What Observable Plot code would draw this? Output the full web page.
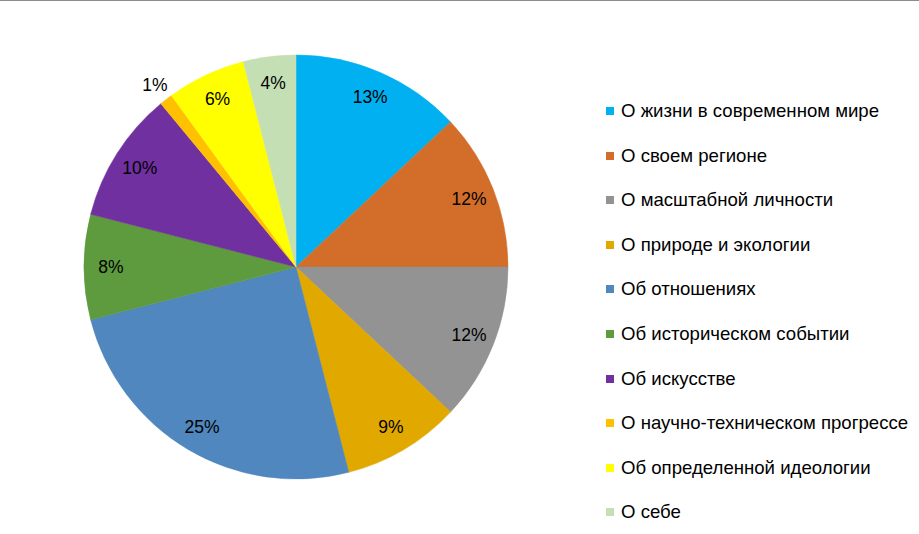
<!DOCTYPE html>
<html><head><meta charset="utf-8">
<script src="https://cdn.jsdelivr.net/npm/d3@7"></script>
<script src="https://cdn.jsdelivr.net/npm/@observablehq/plot@0.6"></script>
<style>
html,body{margin:0;padding:0;background:#fff;}
#wrap{position:relative;width:919px;height:534px;overflow:hidden;border-top:1px solid #8c8c8c;box-sizing:border-box;font-family:"Liberation Sans",Arial,sans-serif;}
#legend{position:absolute;left:606px;top:0;}
.item{position:absolute;left:0;white-space:nowrap;font-size:18.6px;color:#000;line-height:20px;}
.sw{display:inline-block;width:8px;height:8px;margin-right:7px;vertical-align:2px;}
</style></head>
<body><div id="wrap"><div id="chart"></div><div id="legend"></div></div>
<script>
const categories = ["О жизни в современном мире","О своем регионе","О масштабной личности","О природе и экологии","Об отношениях","Об историческом событии","Об искусстве","О научно-техническом прогрессе","Об определенной идеологии","О себе"];
const values = [13,12,12,9,25,8,10,1,6,4];
const colors = ["#00B0F0","#D26E2A","#939393","#E1A800","#4F87BE","#5E9A3E","#7030A0","#FFC000","#FFFF00","#C4DFB4"];

const pie = d3.pie().sort(null).value(d => d.value);
const data = categories.map((c,i) => ({category:c, value:values[i], color:colors[i]}));
const arcs = pie(data);
const total = d3.sum(values);
const labels = arcs.map(a => {
  const mid = (a.startAngle + a.endAngle)/2;
  const r = a.data.value / total < 0.02 ? 1.09 : 0.875;
  return {x: Math.sin(mid)*r, y: Math.cos(mid)*r, text: a.data.value + "%"};
});

function pieMark(index, scales, values, dimensions) {
  const cx = scales.x(0), cy = scales.y(0);
  const R = Math.abs(scales.x(1) - scales.x(0));
  const arc = d3.arc().innerRadius(0).outerRadius(R);
  const g = d3.create("svg:g").attr("transform", `translate(${cx},${cy})`);
  g.selectAll("path").data(arcs).join("path")
    .attr("d", arc).attr("fill", d => d.data.color).attr("stroke", d => d.data.color).attr("stroke-width", 0.5);
  return g.node();
}

const plot = Plot.plot({
  width: 919, height: 533,
  margin: 0,
  x: {domain: [-1, 1], range: [84, 508], axis: null},
  y: {domain: [-1, 1], range: [478, 54], axis: null},
  style: {fontFamily: '"Liberation Sans", Arial, sans-serif', background: "transparent"},
  marks: [
    pieMark,
    Plot.text(labels, {x: "x", y: "y", text: "text", fontSize: 17.5, fill: "#000"})
  ]
});
document.getElementById("chart").appendChild(plot);

const leg = d3.select("#legend");
categories.forEach((c,i) => {
  const it = leg.append("div").attr("class","item").style("top", (100 + i*44.6) + "px");
  it.append("span").attr("class","sw").style("background", colors[i]);
  it.append("span").text(c);
});
</script></body></html>
